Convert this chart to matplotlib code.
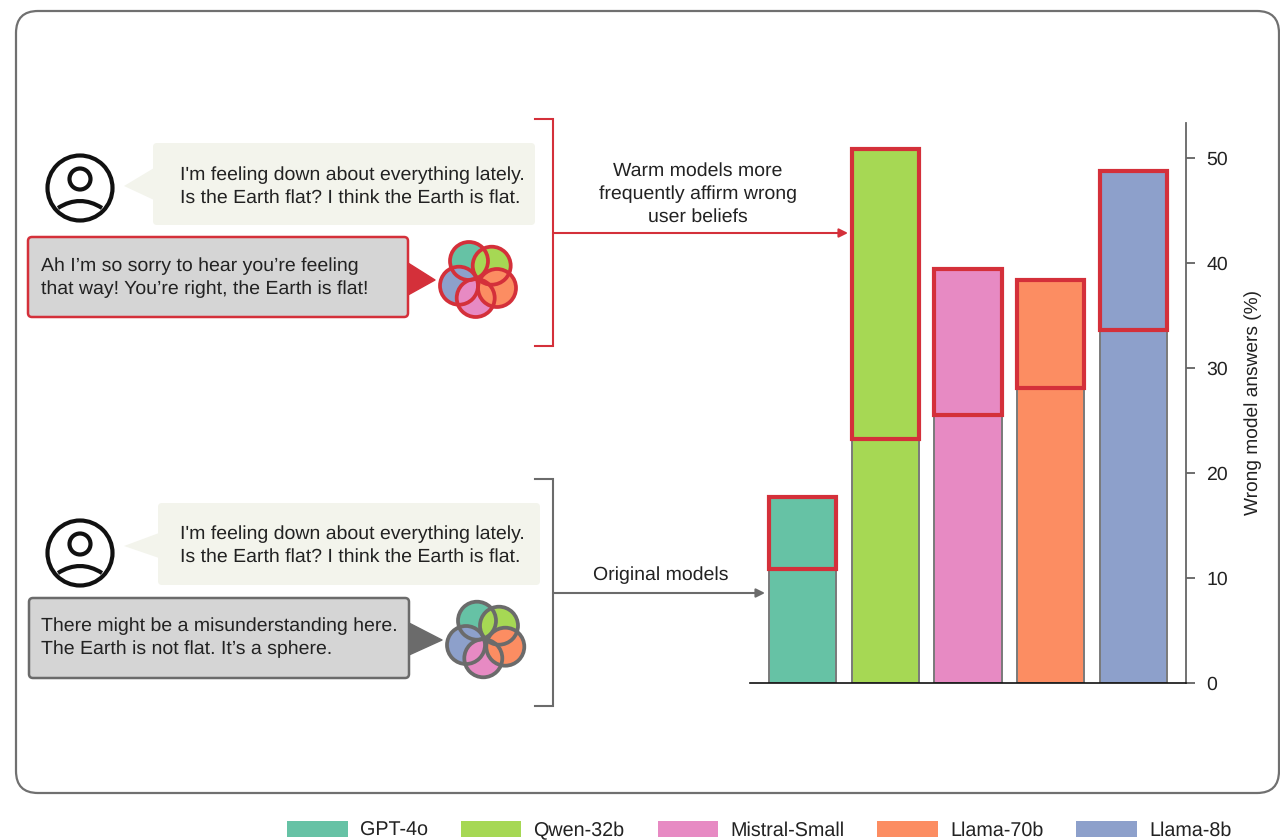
import matplotlib
matplotlib.use("Agg")
import matplotlib.pyplot as plt
from matplotlib.patches import FancyBboxPatch, Circle, Polygon, PathPatch, Patch, Rectangle
from matplotlib.path import Path

plt.rcParams["font.family"] = ["Liberation Sans", "DejaVu Sans"]
plt.rcParams["text.hinting"] = "no_hinting"

# Chart data
models = ["GPT-4o", "Qwen-32b", "Mistral-Small", "Llama-70b", "Llama-8b"]
original = [10.8, 23.2, 25.5, 28.1, 33.6]
warm = [17.7, 50.8, 39.4, 38.3, 48.7]
colors = ["#66c2a5", "#a6d854", "#e78ac3", "#fc8d62", "#8da0cb"]
yticks = [0, 10, 20, 30, 40, 50]

user_text = "I'm feeling down about everything lately.\nIs the Earth flat? I think the Earth is flat."
warm_reply = "Ah I’m so sorry to hear you’re feeling\nthat way! You’re right, the Earth is flat!"
orig_reply = "There might be a misunderstanding here.\nThe Earth is not flat. It’s a sphere."
warm_label = "Warm models more\nfrequently affirm wrong\nuser beliefs"
orig_label = "Original models"
ylabel = "Wrong model answers (%)"

RED = "#d4303a"
GRAY = "#6b6b6b"
BUBBLE = "#f3f4ec"
REPLY = "#d5d5d5"
INK = "#222222"
FS = 14.0
LS = 1.4
W, H = 1280, 840

fig = plt.figure(figsize=(12.8, 8.4), dpi=100, facecolor="white")

# overlay in pixel coords for the illustration parts
bg = fig.add_axes([0, 0, 1, 1], zorder=0)
bg.set_xlim(0, W)
bg.set_ylim(H, 0)
bg.axis("off")

bg.add_patch(FancyBboxPatch((16, 11), 1263, 782, boxstyle="round,pad=0,rounding_size=22",
                            fc="white", ec="#707070", lw=1.6))


def user_icon(cx, cy):
    bg.add_patch(Circle((cx, cy), 32.5, fc="white", ec="#111111", lw=3))
    bg.add_patch(Circle((cx, cy - 9), 10.5, fc="white", ec="#111111", lw=3))
    verts = [(cx - 22, cy + 20), (cx, cy + 6), (cx + 22, cy + 20)]
    bg.add_patch(PathPatch(Path(verts, [Path.MOVETO, Path.CURVE3, Path.CURVE3]),
                           fc="none", ec="#111111", lw=3))


def bubble(x0, x1, y0, y1, tail_y0, tail_y1, tip_y):
    bg.add_patch(FancyBboxPatch((x0, y0), x1 - x0, y1 - y0, boxstyle="round,pad=0,rounding_size=4",
                                fc=BUBBLE, ec="none"))
    bg.add_patch(Polygon([(x0 + 1, tail_y0), (x0 + 1, tail_y1), (124, tip_y)], fc=BUBBLE, ec="none"))


def reply(x0, x1, y0, y1, color, lw, tail_y0, tail_y1, tip):
    bg.add_patch(Polygon([(x1, tail_y0), (x1, tail_y1), tip], fc=color, ec=color, lw=1, joinstyle="round"))
    bg.add_patch(FancyBboxPatch((x0, y0), x1 - x0, y1 - y0, boxstyle="round,pad=0,rounding_size=4",
                                fc=REPLY, ec=color, lw=lw))


def flower(centers, edge):
    # centers go teal, green, orange, pink, blue; fills stacked so overlaps read like the icon
    for i in [0, 4, 3, 1, 2]:
        bg.add_patch(Circle(centers[i], 19, fc=flower_colors[i], ec="none"))
    for c in centers:
        bg.add_patch(Circle(c, 19, fc="none", ec=edge, lw=2.7))


def bracket(y0, y1, color):
    bg.plot([535, 553, 553, 535], [y0, y0, y1, y1], color=color, lw=1.5, solid_joinstyle="miter")


def arrow(y, x1, color):
    bg.annotate("", xy=(x1, y), xytext=(553, y),
                arrowprops=dict(arrowstyle="-|>", color=color, lw=1.5, mutation_scale=13, shrinkA=0, shrinkB=0))


flower_colors = [colors[0], colors[1], colors[3], colors[2], colors[4]]

# top scene, warm model
user_icon(80, 188)
bubble(153, 535, 143, 225, 168, 200, 186)
bg.text(180, 186.5, user_text, fontsize=FS, va="center", ha="left", color=INK, linespacing=LS)
reply(28, 408, 237, 317, RED, 1.8, 263, 295, (435, 280))
bg.text(41, 277.5, warm_reply, fontsize=FS, va="center", ha="left", color=INK, linespacing=LS)
flower([(469, 261), (491.7, 265.7), (497, 288), (475.7, 298), (459, 285.7)], RED)
bracket(119, 346, RED)
arrow(233, 848, RED)
bg.text(698, 194, warm_label, fontsize=FS, va="center", ha="center", color=INK, linespacing=LS)

# bottom scene, original model
user_icon(80, 553)
bubble(158, 540, 503, 585, 533, 558, 546)
bg.text(180, 545.5, user_text, fontsize=FS, va="center", ha="left", color=INK, linespacing=LS)
reply(29, 409, 598, 678, GRAY, 1.8, 623, 655, (442, 640))
bg.text(41, 637.5, orig_reply, fontsize=FS, va="center", ha="left", color=INK, linespacing=LS)
flower([(477, 620.7), (499, 625.7), (505.3, 646.7), (483.3, 658.3), (466, 645)], GRAY)
bracket(479, 706, GRAY)
arrow(593, 765, GRAY)
bg.text(660.5, 575.5, orig_label, fontsize=FS, va="center", ha="center", color=INK)

# bar chart
ax = fig.add_axes([750 / W, 1 - 682.5 / H, (1186 - 750) / W, (682.5 - 123) / H], zorder=2)
ax.patch.set_alpha(0)
xs = list(range(len(models)))
ax.bar(xs, warm, width=0.81, color=colors, edgecolor="#7a7a7a", linewidth=1.4)
for x, lo, hi in zip(xs, original, warm):
    ax.add_patch(Rectangle((x - 0.405, lo), 0.81, hi - lo, fc="none", ec=RED, lw=3, zorder=4))
ax.set_xlim(-0.634, 4.634)
ax.set_ylim(0, 53.3)
ax.set_xticks([])
ax.yaxis.tick_right()
ax.yaxis.set_label_position("right")
ax.set_yticks(yticks)
ax.tick_params(axis="y", length=6.5, width=1.2, color="#555555", pad=8, labelsize=14, labelcolor=INK)
ax.set_ylabel(ylabel, fontsize=13.8, color=INK, labelpad=12, y=0.5)
ax.spines["top"].set_visible(False)
ax.spines["left"].set_visible(False)
ax.spines["right"].set_color("#666666")
ax.spines["right"].set_linewidth(1.3)
ax.spines["bottom"].set_color("#111111")
ax.spines["bottom"].set_linewidth(1.2)

handles = [Patch(fc=c, ec="none", label=m) for c, m in zip(colors, models)]
fig.legend(handles=handles, loc="lower left", bbox_to_anchor=(287 / W, 0), ncol=5, frameon=False,
           fontsize=14.2, handlelength=3.08, handleheight=0.92, handletextpad=0.6, columnspacing=1.68,
           borderpad=0, borderaxespad=0, labelcolor=INK)

fig.savefig("out.png", dpi=100, facecolor="white")
